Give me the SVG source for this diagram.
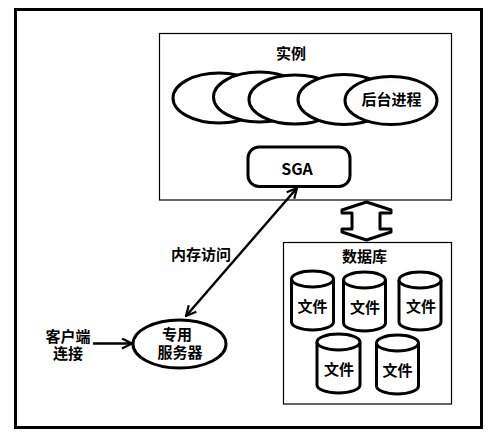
<svg xmlns="http://www.w3.org/2000/svg" width="498" height="441" viewBox="0 0 498 441">
<style>
text{font-family:"Noto Sans CJK SC","Noto Sans",sans-serif;font-weight:bold;font-size:15px;fill:#000;text-anchor:middle;dominant-baseline:central}
.thin{fill:none;stroke:#000;stroke-width:1.2}
.thick{fill:#fff;stroke:#000;stroke-width:3}
.line{fill:none;stroke:#000;stroke-width:2.5}
</style>
<defs>
<marker id="open" viewBox="0 0 12 12" refX="11" refY="6" markerWidth="12" markerHeight="12" markerUnits="userSpaceOnUse" orient="auto-start-reverse">
<path d="M1,1 L11,6 L1,11" fill="none" stroke="#000" stroke-width="2.2"/>
</marker>
</defs>
<rect x="15.5" y="9.5" width="466" height="418" fill="#fff" stroke="#000" stroke-width="3"/>
<g id="instance">
<rect class="thin" x="159.5" y="33.5" width="292" height="166.5"/>
<text x="291" y="52">实例</text>
</g>
<g id="bg-processes">
<ellipse class="thick" cx="219" cy="98" rx="46" ry="25"/>
<ellipse class="thick" cx="259.5" cy="97" rx="46" ry="25"/>
<ellipse class="thick" cx="295" cy="99.5" rx="46" ry="24.5"/>
<ellipse class="thick" cx="344" cy="99.5" rx="46" ry="25"/>
<ellipse class="thick" cx="391" cy="100.5" rx="46" ry="24"/>
<text x="391.5" y="98.5">后台进程</text>
</g>
<g id="sga">
<rect class="thick" x="248" y="147" width="102" height="39.5" rx="11"/>
<text x="297" y="168" style="font-size:16px">SGA</text>
</g>
<g id="database">
<rect class="thin" x="283.5" y="242.5" width="168" height="161.5"/>
<text x="364.5" y="255">数据库</text>
</g>
<g id="file1">
<path class="thick" d="M291.5,279 v43 a21,8 0 0 0 42,0 v-43"/>
<ellipse class="thick" cx="312.5" cy="279" rx="21" ry="8"/>
<text x="312.5" y="305">文件</text>
</g>
<g id="file2">
<path class="thick" d="M343.5,280 v43 a21,8 0 0 0 42,0 v-43"/>
<ellipse class="thick" cx="364.5" cy="280" rx="21" ry="8"/>
<text x="365" y="306">文件</text>
</g>
<g id="file3">
<path class="thick" d="M399,280 v42 a21,8 0 0 0 42,0 v-42"/>
<ellipse class="thick" cx="420" cy="280" rx="21" ry="8"/>
<text x="421" y="305">文件</text>
</g>
<g id="file4">
<path class="thick" d="M317,342 v43 a21.5,8 0 0 0 43,0 v-43"/>
<ellipse class="thick" cx="338.5" cy="342" rx="21.5" ry="8"/>
<text x="339" y="368">文件</text>
</g>
<g id="file5">
<path class="thick" d="M376.5,343 v43 a21,8 0 0 0 42,0 v-43"/>
<ellipse class="thick" cx="397.5" cy="343" rx="21" ry="8"/>
<text x="397.5" y="369">文件</text>
</g>
<g id="server">
<ellipse class="thick" cx="179.5" cy="344" rx="46.5" ry="24"/>
<text x="177" y="333"><tspan x="177" y="333">专用</tspan><tspan x="180" y="351">服务器</tspan></text>
</g>
<g id="client">
<text x="68" y="335"><tspan x="68" y="335">客户端</tspan><tspan x="68" y="352">连接</tspan></text>
</g>
<g id="connectors">
<line class="line" x1="186" y1="316" x2="297" y2="188" marker-start="url(#open)" marker-end="url(#open)"/>
<line class="line" x1="93" y1="343.5" x2="132" y2="343.5" marker-end="url(#open)"/>
<path class="thick" stroke-width="2.5" stroke-linejoin="round" d="M366.5,202 L391,210 L391,213 L380,213 L380,229 L391,229 L391,232 L366.5,240 L342,232 L342,229 L352,229 L352,213 L342,213 L342,210 Z"/>
<text x="201" y="253">内存访问</text>
</g>
</svg>
